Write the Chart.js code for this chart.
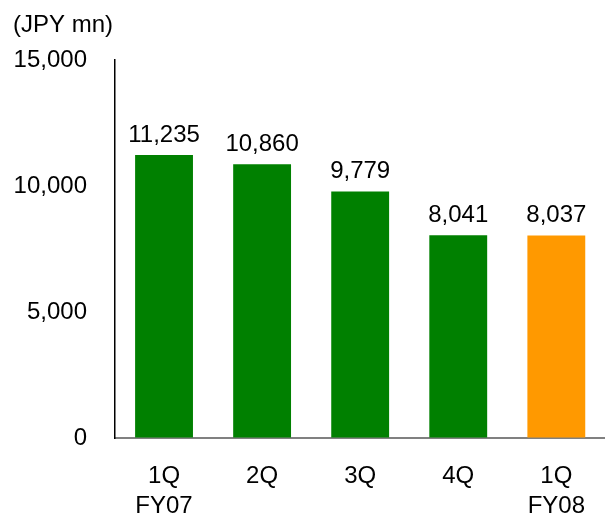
<!doctype html>
<html lang="en">
<head>
<meta charset="utf-8">
<title>Quarterly revenue</title>
<script src="https://cdn.jsdelivr.net/npm/chart.js"></script>
<style>
  html, body { margin: 0; padding: 0; background: #fff; overflow: hidden; }
  #wrap { width: 608px; height: 517px; position: relative; }
</style>
</head>
<body>
<div id="wrap"><canvas id="chart1"></canvas></div>
<script>
// data
const quarters = [['1Q', 'FY07'], '2Q', '3Q', '4Q', ['1Q', 'FY08']];
const values = [11235, 10860, 9779, 8041, 8037];
const barColors = ['#008000', '#008000', '#008000', '#008000', '#FF9900'];
const unitLabel = '(JPY mn)';
const yMax = 15000;
const yStep = 5000;

const FONT = 'Arial, "Liberation Sans", sans-serif';

// value labels above bars + unit text at top left
const labelPlugin = {
  id: 'labels',
  afterDatasetsDraw(chart) {
    const ctx = chart.ctx;
    ctx.save();
    ctx.font = '24px ' + FONT;
    ctx.fillStyle = '#000';
    ctx.textAlign = 'center';
    ctx.textBaseline = 'middle';
    chart.getDatasetMeta(0).data.forEach((bar, i) => {
      ctx.fillText(values[i].toLocaleString('en-US'), bar.x, bar.y - 20);
    });
    ctx.textAlign = 'left';
    ctx.fillText(unitLabel, 13, 25);
    ctx.restore();
  }
};

new Chart(document.getElementById('chart1'), {
  type: 'bar',
  data: {
    labels: quarters,
    datasets: [{
      data: values,
      backgroundColor: barColors,
      borderWidth: 0,
      categoryPercentage: 1,
      barPercentage: 0.59
    }]
  },
  options: {
    responsive: true,
    maintainAspectRatio: false,
    animation: false,
    layout: { padding: { top: 60, left: 0, right: 0, bottom: 0 } },
    plugins: {
      legend: { display: false },
      tooltip: { enabled: false }
    },
    scales: {
      x: {
        grid: { display: true, drawOnChartArea: false, drawTicks: false },
        border: { color: '#808080', width: 2 },
        ticks: {
          color: '#000',
          font: { family: FONT, size: 24, lineHeight: 1.25 },
          padding: 23,
          maxRotation: 0
        },
        afterFit(scale) { scale.height = 79; }
      },
      y: {
        min: 0,
        max: yMax,
        grid: { display: true, drawOnChartArea: false, drawTicks: false },
        border: { color: '#000', width: 1.5 },
        ticks: {
          stepSize: yStep,
          color: '#000',
          font: { family: FONT, size: 24 },
          padding: 28
        },
        afterFit(scale) { scale.width = 115; }
      }
    }
  },
  plugins: [labelPlugin]
});
</script>
</body>
</html>
